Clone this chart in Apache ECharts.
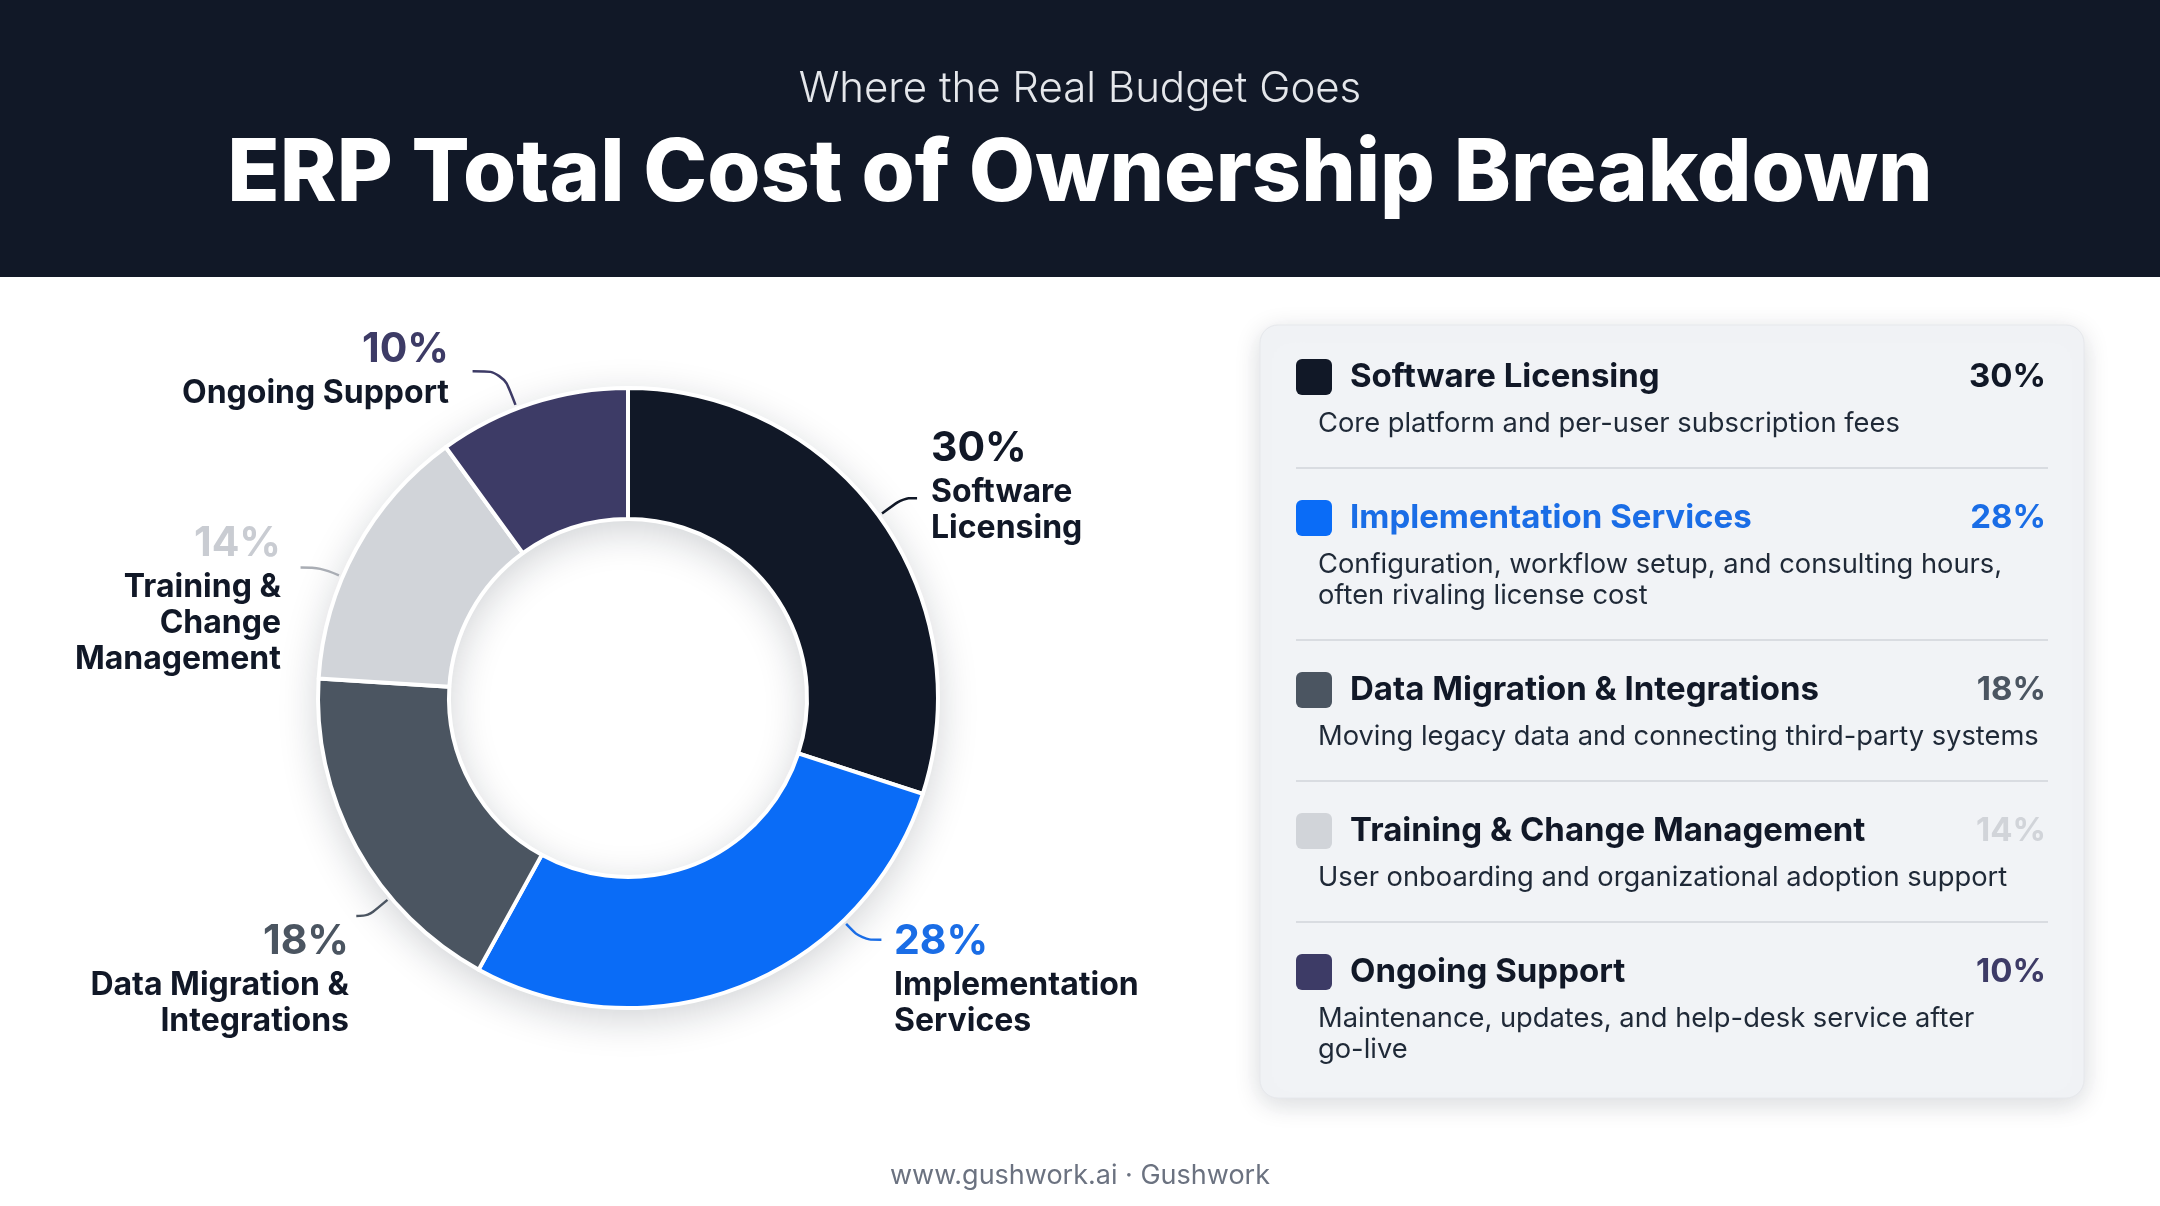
<!DOCTYPE html>
<html><head><meta charset="utf-8">
<script src="https://cdn.jsdelivr.net/npm/echarts@6/dist/echarts.min.js"></script>
<style>html,body{margin:0;padding:0;background:#fff}#c{width:2160px;height:1206px}</style>
</head><body><div id="c"></div>
<script>
// ---- data ----
const categories = ['Software Licensing', 'Implementation Services', 'Data Migration & Integrations', 'Training & Change Management', 'Ongoing Support'];
const shares = [30, 28, 18, 14, 10];
const chartLabels = ['Software\nLicensing', 'Implementation\nServices', 'Data Migration &\nIntegrations', 'Training &\nChange\nManagement', 'Ongoing Support'];
const descriptions = [
  ['Core platform and per-user subscription fees'],
  ['Configuration, workflow setup, and consulting hours,', 'often rivaling license cost'],
  ['Moving legacy data and connecting third-party systems'],
  ['User onboarding and organizational adoption support'],
  ['Maintenance, updates, and help-desk service after', 'go-live']
];
const subtitleText = 'Where the Real Budget Goes';
const titleText = 'ERP Total Cost of Ownership Breakdown';
const footerText = 'www.gushwork.ai · Gushwork';

// ---- styles / layout ----
const sliceColors = ['#111827', '#0a6cf7', '#4b5561', '#d1d4d9', '#3d3b66'];
const pctColors = ['#111827', '#1a6de6', '#4b5561', '#c9ccd2', '#3d3b66'];
const lineColors = ['#111827', '#1a6de6', '#4b5561', '#a9adb4', '#3d3b66'];
const legendTitleColors = ['#111827', '#1a6de6', '#111827', '#111827', '#111827'];
const legendPctColors = ['#111827', '#1a6de6', '#4b5561', '#d1d4d9', '#3d3b66'];
const labelAnchors = [
  { x: 931, y: 485, align: 'left' },
  { x: 894, y: 978, align: 'left' },
  { x: 349, y: 978, align: 'right' },
  { x: 281, y: 598, align: 'right' },
  { x: 449, y: 368, align: 'right' }
];
// leader line: angle on the ring (deg clockwise from top), radial length, horizontal length
const leaderStyle = [
  { angle: 54, len1: 26, len2: 14 },
  { angle: 136, len1: 22, len2: 20 },
  { angle: 230, len1: 25, len2: 12 },
  { angle: 293, len1: 20, len2: 20 },
  { angle: 339, len1: 36, len2: 30 }
];
const PIE_CX = 628, PIE_CY = 698, R_IN = 179, R_OUT = 310;
const FONT = 'Inter, "Noto Sans", sans-serif';

const chart = echarts.init(document.getElementById('c'), null, { renderer: 'canvas' });

const rich = {};
pctColors.forEach((c, i) => {
  rich['p' + i] = { fontSize: 41, fontWeight: 700, lineHeight: 50, color: c, fontFamily: FONT };
});
rich.n = { fontSize: 32, fontWeight: 700, lineHeight: 36, color: '#111827', fontFamily: FONT };

// ---- graphic: header, card, footer ----
const g = [];
g.push({ type: 'rect', shape: { x: 0, y: 0, width: 2160, height: 277 }, style: { fill: '#111827' }, z: 0 });
g.push({ type: 'text', x: 1080, y: 89, style: { text: subtitleText, fontSize: 42, fontWeight: 300, fontFamily: FONT, fill: '#e5e7eb', align: 'center', verticalAlign: 'middle', textAlign: 'center', textVerticalAlign: 'middle' } });
g.push({ type: 'text', x: 1080, y: 175, style: { text: titleText, fontSize: 86, fontWeight: 800, fontFamily: FONT, fill: '#ffffff', align: 'center', verticalAlign: 'middle', textAlign: 'center', textVerticalAlign: 'middle' } });
g.push({ type: 'text', x: 1080, y: 1176, style: { text: footerText, fontSize: 27, fontWeight: 400, fontFamily: FONT, fill: '#6b7280', align: 'center', verticalAlign: 'middle', textAlign: 'center', textVerticalAlign: 'middle' } });

// legend card
g.push({ type: 'rect', shape: { x: 1260, y: 325, width: 824, height: 773, r: 18 }, style: { fill: '#f1f3f6', stroke: '#e6e8ec', lineWidth: 1, shadowBlur: 26, shadowColor: 'rgba(15,23,42,0.16)', shadowOffsetY: 6 }, z: 1 });
let yy = 377;
categories.forEach((name, i) => {
  g.push({ type: 'rect', shape: { x: 1296, y: yy - 18, width: 36, height: 36, r: 6 }, style: { fill: sliceColors[i] }, z: 2 });
  g.push({ type: 'text', x: 1350, y: yy, z: 2, style: { text: name, fontSize: 33, fontWeight: 700, fontFamily: FONT, fill: legendTitleColors[i], align: 'left', verticalAlign: 'middle', textAlign: 'left', textVerticalAlign: 'middle' } });
  g.push({ type: 'text', x: 2046, y: yy, z: 2, style: { text: shares[i] + '%', fontSize: 33, fontWeight: 700, fontFamily: FONT, fill: legendPctColors[i], align: 'right', verticalAlign: 'middle', textAlign: 'right', textVerticalAlign: 'middle' } });
  let dy = yy + 47;
  descriptions[i].forEach((line, k) => {
    dy = yy + 47 + k * 31;
    g.push({ type: 'text', x: 1318, y: dy, z: 2, style: { text: line, fontSize: 27.3, fontWeight: 400, fontFamily: FONT, fill: '#1f2937', align: 'left', verticalAlign: 'middle', textAlign: 'left', textVerticalAlign: 'middle' } });
  });
  if (i < categories.length - 1) {
    const sy = dy + 44;
    g.push({ type: 'line', shape: { x1: 1296, y1: sy, x2: 2048, y2: sy }, style: { stroke: '#d9dce1', lineWidth: 2 }, z: 2 });
    yy = sy + 50;
  }
});

function leaderPoints(i) {
  const s = leaderStyle[i];
  const a = s.angle * Math.PI / 180;
  const ux = Math.sin(a), uy = -Math.cos(a);
  const r0 = R_OUT + 4;
  const p0 = [PIE_CX + r0 * ux, PIE_CY + r0 * uy];
  const p1 = [PIE_CX + (r0 + s.len1) * ux, PIE_CY + (r0 + s.len1) * uy];
  const dir = ux >= 0 ? 1 : -1;
  const p2 = [p1[0] + dir * s.len2, p1[1]];
  return [p0, p1, p2];
}

chart.setOption({
  animation: false,
  backgroundColor: '#ffffff',
  textStyle: { fontFamily: FONT },
  graphic: { elements: g },
  series: [
    {
      type: 'pie',
      silent: true,
      center: [PIE_CX, PIE_CY],
      radius: [R_IN, R_OUT],
      label: { show: false },
      labelLine: { show: false },
      itemStyle: { color: '#ffffff', shadowBlur: 40, shadowColor: 'rgba(15,23,42,0.20)', shadowOffsetY: 10 },
      data: [{ value: 1 }],
      z: 1
    },
    {
      type: 'pie',
      center: [PIE_CX, PIE_CY],
      radius: [R_IN, R_OUT],
      startAngle: 90,
      clockwise: true,
      avoidLabelOverlap: false,
      itemStyle: { borderColor: '#ffffff', borderWidth: 4 },
      label: {
        show: true,
        position: 'outside',
        formatter: (p) => {
          const i = p.dataIndex;
          const lines = chartLabels[i].split('\n').map(s => '{n|' + s + '}');
          return '{p' + i + '|' + shares[i] + '%}\n' + lines.join('\n');
        },
        rich: rich
      },
      labelLine: { show: true, length: 18, length2: 14, smooth: 0.35, lineStyle: { width: 2.5 } },
      labelLayout: (params) => {
        const i = params.dataIndex;
        const a = labelAnchors[i];
        return { x: a.x, y: a.y, align: a.align, verticalAlign: 'middle', labelLinePoints: leaderPoints(i) };
      },
      data: categories.map((name, i) => ({
        name: name,
        value: shares[i],
        itemStyle: { color: sliceColors[i] },
        labelLine: { lineStyle: { color: lineColors[i] } }
      })),
      z: 3
    }
  ]
});
</script>
</body></html>
